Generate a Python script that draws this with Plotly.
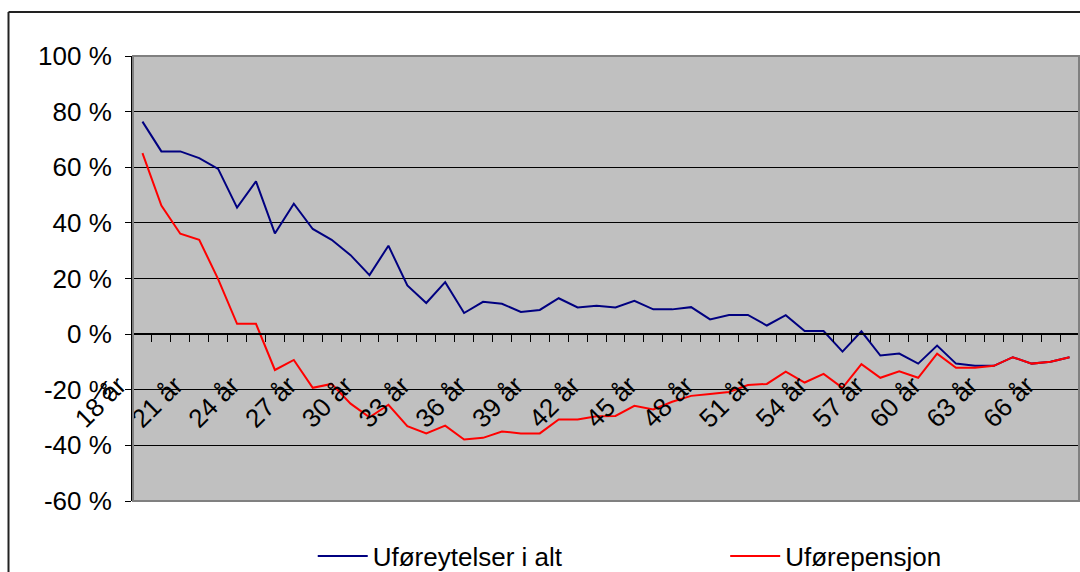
import plotly.graph_objects as go

ages = [18, 19, 20, 21, 22, 23, 24, 25, 26, 27, 28, 29, 30, 31, 32, 33, 34,
        35, 36, 37, 38, 39, 40, 41, 42, 43, 44, 45, 46, 47, 48, 49, 50, 51,
        52, 53, 54, 55, 56, 57, 58, 59, 60, 61, 62, 63, 64, 65, 66, 67]
label_ages = [18, 21, 24, 27, 30, 33, 36, 39, 42, 45, 48, 51, 54, 57, 60, 63, 66]

uforeytelser = [76.4, 65.7, 65.7, 63.3, 59.4, 45.5, 54.9, 36.2, 46.9, 37.8,
                33.9, 28.4, 21.2, 31.8, 17.5, 11.2, 18.7, 7.6, 11.6, 10.9,
                8.0, 8.7, 12.9, 9.6, 10.2, 9.6, 12.0, 8.9, 8.9, 9.7,
                5.3, 6.9, 6.9, 3.1, 6.8, 1.1, 1.1, -6.3, 1.0, -7.7,
                -7.0, -10.6, -4.1, -10.6, -11.4, -11.4, -8.3, -10.6, -9.9, -8.3]
uforepensjon = [65.1, 46.2, 36.1, 33.9, 19.8, 3.7, 3.7, -12.9, -9.3, -19.3,
                -17.9, -25.0, -29.9, -25.4, -33.1, -35.7, -32.9, -37.9, -37.3, -35.0,
                -35.7, -35.7, -30.7, -30.7, -29.5, -29.4, -25.8, -27.1, -24.3, -22.2,
                -21.5, -20.8, -18.3, -17.9, -13.5, -17.4, -14.3, -19.3, -10.8, -15.7,
                -13.4, -15.7, -7.0, -12.1, -12.1, -11.4, -8.3, -10.6, -9.9, -8.3]

y_tick_vals = [100, 80, 60, 40, 20, 0, -20, -40, -60]
y_tick_text = ["100 %", "80 %", "60 %", "40 %", "20 %", "0 %", "-20 %", "-40 %", "-60 %"]

categories = [f"{a} år" for a in ages]
x_tick_text = [f"{a} år" if a in label_ages else "" for a in ages]

FONT = "Liberation Sans, Arial, sans-serif"

fig = go.Figure()
fig.add_trace(go.Scatter(x=categories, y=uforeytelser, mode="lines",
                         name="Uføreytelser i alt", legend="legend",
                         line=dict(color="#000080", width=2)))
fig.add_trace(go.Scatter(x=categories, y=uforepensjon, mode="lines",
                         name="Uførepensjon", legend="legend2",
                         line=dict(color="#FF0000", width=2)))

legend_common = dict(orientation="h", xanchor="left", y=-0.124, yanchor="middle",
                     font=dict(family=FONT, size=26, color="black"),
                     itemwidth=50, bgcolor="rgba(0,0,0,0)")

fig.update_layout(
    width=1080, height=572,
    margin=dict(l=133, r=1, t=56, b=71, autoexpand=False),
    plot_bgcolor="#C0C0C0", paper_bgcolor="white",
    font=dict(family=FONT, size=26, color="black"),
    showlegend=True,
    legend=dict(x=0.190, **legend_common),
    legend2=dict(x=0.626, **legend_common),
    shapes=[
        dict(type="rect", xref="paper", yref="paper", x0=0, x1=1, y0=0, y1=1,
             line=dict(color="#808080", width=2), layer="above"),
        dict(type="line", xref="paper", yref="paper", x0=-0.1316, x1=-0.1316,
             y0=1.0989, y1=-0.2, line=dict(color="#222222", width=2)),
        dict(type="line", xref="paper", yref="paper", x0=-0.1316, x1=1.1,
             y0=1.0989, y1=1.0989, line=dict(color="#222222", width=2)),
    ],
)

fig.update_xaxes(
    type="category", anchor="free", position=0.375,
    range=[-0.5, len(categories) - 0.5],
    showline=True, linecolor="black", linewidth=1.5,
    ticks="outside", ticklen=7, tickcolor="black", tickwidth=1,
    tickson="boundaries", tickmode="array", tickvals=categories, ticktext=x_tick_text,
    tickangle=-45, showgrid=False, zeroline=False,
    ticklabelstandoff=25, ticklabelshift=-24,
    tickfont=dict(family=FONT, size=26, color="black"),
)
fig.update_yaxes(
    range=[-60, 100], tickmode="array", tickvals=y_tick_vals, ticktext=y_tick_text,
    showline=True, linecolor="black", linewidth=2,
    ticks="outside", ticklen=6, tickcolor="black",
    showgrid=True, gridcolor="black", gridwidth=1, zeroline=False,
    ticklabelstandoff=8,
    tickfont=dict(family=FONT, size=26, color="black"),
)

fig.write_html("out.html", config={"displayModeBar": False},
               post_script="document.body.style.margin='0';")
